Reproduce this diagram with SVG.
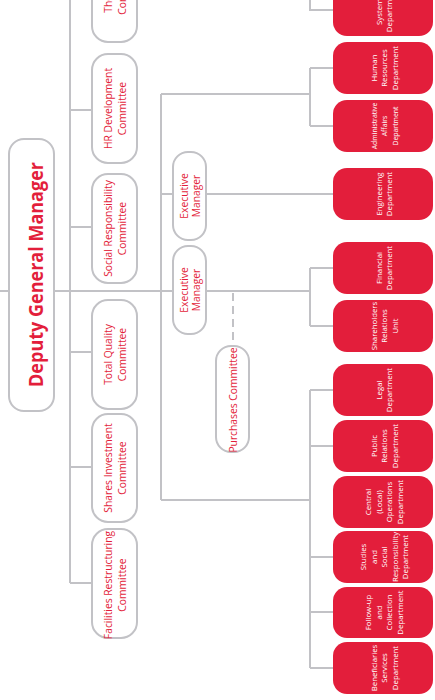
<svg xmlns="http://www.w3.org/2000/svg" width="435" height="700" viewBox="0 0 435 700">
<style>
.ln{stroke:#c2c2c6;stroke-width:2;fill:none}
.dash{stroke:#c2c2c6;stroke-width:2;fill:none;stroke-dasharray:8 5}
.wb{fill:#fff;stroke:#c2c2c6;stroke-width:2}
.rb{fill:#e31e3b}
.wt{font-family:"Open Sans","Liberation Sans",sans-serif;font-size:10.3px;fill:#e31e3b;text-anchor:middle}
.rt{font-family:"Open Sans","Liberation Sans",sans-serif;font-size:7.8px;fill:#fff;text-anchor:middle}
.sm{font-size:6.9px}
.dt{font-family:"Open Sans","Liberation Sans",sans-serif;font-size:20px;font-weight:bold;fill:#e31e3b;text-anchor:middle}
</style>
<rect width="435" height="700" fill="#fff"/>
<g id="connectors">
<path class="ln" d="M0 291H9M54 291H310M70 0V583M70 -12H92M70 110H92M70 227H92M70 352H92M70 467H92M70 583H92"/>
<path class="ln" d="M161 94V500M161 94H310M310 68V126M310 68H333M310 126H333M161 194H333"/>
<path class="ln" d="M310 0V10H333M310 268V326M310 268H333M310 326H333"/>
<path class="ln" d="M161 500H310M310 390V668M310 390H333M310 446H333M310 557H333M310 612H333M310 668H333"/>
<path class="dash" d="M233 293V346"/>
</g>
<g id="dgm"><rect class="wb" x="9" y="139" width="45" height="272" rx="15"/><text class="dt" transform="translate(43,274.5) rotate(-90)" textLength="225" lengthAdjust="spacingAndGlyphs">Deputy General Manager</text></g>
<g id="c-top"><rect class="wb" x="92" y="-66" width="45" height="108" rx="16"/><text class="wt" transform="translate(114.5,-12) rotate(-90)"><tspan x="0" y="-2.5">The Credit</tspan><tspan x="0" y="11">Committee</tspan></text></g>
<g id="c-hr"><rect class="wb" x="92" y="54" width="45" height="109" rx="16"/><text class="wt" transform="translate(114.5,108.5) rotate(-90)"><tspan x="0" y="-2.5">HR Development</tspan><tspan x="0" y="11">Committee</tspan></text></g>
<g id="c-social"><rect class="wb" x="92" y="174" width="45" height="109" rx="16"/><text class="wt" transform="translate(114.5,228.5) rotate(-90)"><tspan x="0" y="-2.5">Social Responsibility</tspan><tspan x="0" y="11">Committee</tspan></text></g>
<g id="c-quality"><rect class="wb" x="92" y="300" width="45" height="109" rx="16"/><text class="wt" transform="translate(114.5,354.5) rotate(-90)"><tspan x="0" y="-2.5">Total Quality</tspan><tspan x="0" y="11">Committee</tspan></text></g>
<g id="c-shares"><rect class="wb" x="92" y="414" width="45" height="108" rx="16"/><text class="wt" transform="translate(114.5,468) rotate(-90)"><tspan x="0" y="-2.5">Shares Investment</tspan><tspan x="0" y="11">Committee</tspan></text></g>
<g id="c-facilities"><rect class="wb" x="92" y="529" width="45" height="109" rx="16"/><text class="wt" transform="translate(114.5,585) rotate(-90)"><tspan x="0" y="-2.5">Facilities Restructuring</tspan><tspan x="0" y="11">Committee</tspan></text></g>
<g id="exec1"><rect class="wb" x="173" y="152" width="33" height="88" rx="15"/><text class="wt" transform="translate(189.5,196) rotate(-90)"><tspan x="0" y="-2">Executive</tspan><tspan x="0" y="10">Manager</tspan></text></g>
<g id="exec2"><rect class="wb" x="173" y="246" width="33" height="88" rx="15"/><text class="wt" transform="translate(189.5,290) rotate(-90)"><tspan x="0" y="-2">Executive</tspan><tspan x="0" y="10">Manager</tspan></text></g>
<g id="purchases"><rect class="wb" x="216" y="346" width="33" height="106" rx="15"/><text class="wt" transform="translate(232.5,400) rotate(-90)"><tspan x="0" y="4">Purchases Committee</tspan></text></g>
<g id="d-systems"><rect class="rb" x="333" y="-16" width="100" height="52" rx="14"/><text class="rt" transform="translate(384,10) rotate(-90)"><tspan x="0" y="-2.25">Systems</tspan><tspan x="0" y="8.25">Department</tspan></text></g>
<g id="d-hr"><rect class="rb" x="333" y="42" width="100" height="52" rx="14"/><text class="rt" transform="translate(384,68) rotate(-90)"><tspan x="0" y="-7.5">Human</tspan><tspan x="0" y="3">Resources</tspan><tspan x="0" y="13.5">Department</tspan></text></g>
<g id="d-admin"><rect class="rb" x="333" y="100" width="100" height="52" rx="14"/><text class="rt sm" transform="translate(384,126) rotate(-90)"><tspan x="0" y="-7.5">Administrative</tspan><tspan x="0" y="3">Affairs</tspan><tspan x="0" y="13.5">Department</tspan></text></g>
<g id="d-eng"><rect class="rb" x="333" y="168" width="100" height="52" rx="14"/><text class="rt" transform="translate(384,194) rotate(-90)"><tspan x="0" y="-2.25">Engineering</tspan><tspan x="0" y="8.25">Department</tspan></text></g>
<g id="d-fin"><rect class="rb" x="333" y="242" width="100" height="52" rx="14"/><text class="rt" transform="translate(384,268) rotate(-90)"><tspan x="0" y="-2.25">Financial</tspan><tspan x="0" y="8.25">Department</tspan></text></g>
<g id="d-share"><rect class="rb" x="333" y="300" width="100" height="52" rx="14"/><text class="rt" transform="translate(384,326) rotate(-90)"><tspan x="0" y="-7.5">Shareholders</tspan><tspan x="0" y="3">Relations</tspan><tspan x="0" y="13.5">Unit</tspan></text></g>
<g id="d-legal"><rect class="rb" x="333" y="364" width="100" height="52" rx="14"/><text class="rt" transform="translate(384,390) rotate(-90)"><tspan x="0" y="-2.25">Legal</tspan><tspan x="0" y="8.25">Department</tspan></text></g>
<g id="d-pr"><rect class="rb" x="333" y="420" width="100" height="52" rx="14"/><text class="rt" transform="translate(384,446) rotate(-90)"><tspan x="0" y="-7.5">Public</tspan><tspan x="0" y="3">Relations</tspan><tspan x="0" y="13.5">Department</tspan></text></g>
<g id="d-central"><rect class="rb" x="333" y="476" width="100" height="52" rx="14"/><text class="rt" transform="translate(384,502) rotate(-90)"><tspan x="0" y="-12.75">Central</tspan><tspan x="0" y="-2.25">(Local)</tspan><tspan x="0" y="8.25">Operations</tspan><tspan x="0" y="18.75">Department</tspan></text></g>
<g id="d-studies"><rect class="rb" x="333" y="531" width="100" height="52" rx="14"/><text class="rt" transform="translate(384,557) rotate(-90)"><tspan x="0" y="-18">Studies</tspan><tspan x="0" y="-7.5">and</tspan><tspan x="0" y="3">Social</tspan><tspan x="0" y="13.5">Responsibility</tspan><tspan x="0" y="24">Department</tspan></text></g>
<g id="d-follow"><rect class="rb" x="333" y="587" width="100" height="51" rx="14"/><text class="rt" transform="translate(384,612.5) rotate(-90)"><tspan x="0" y="-12.75">Follow-up</tspan><tspan x="0" y="-2.25">and</tspan><tspan x="0" y="8.25">Collection</tspan><tspan x="0" y="18.75">Department</tspan></text></g>
<g id="d-benef"><rect class="rb" x="333" y="642" width="100" height="52" rx="14"/><text class="rt" transform="translate(384,668) rotate(-90)"><tspan x="0" y="-7.5">Beneficiaries</tspan><tspan x="0" y="3">Services</tspan><tspan x="0" y="13.5">Department</tspan></text></g>
</svg>
